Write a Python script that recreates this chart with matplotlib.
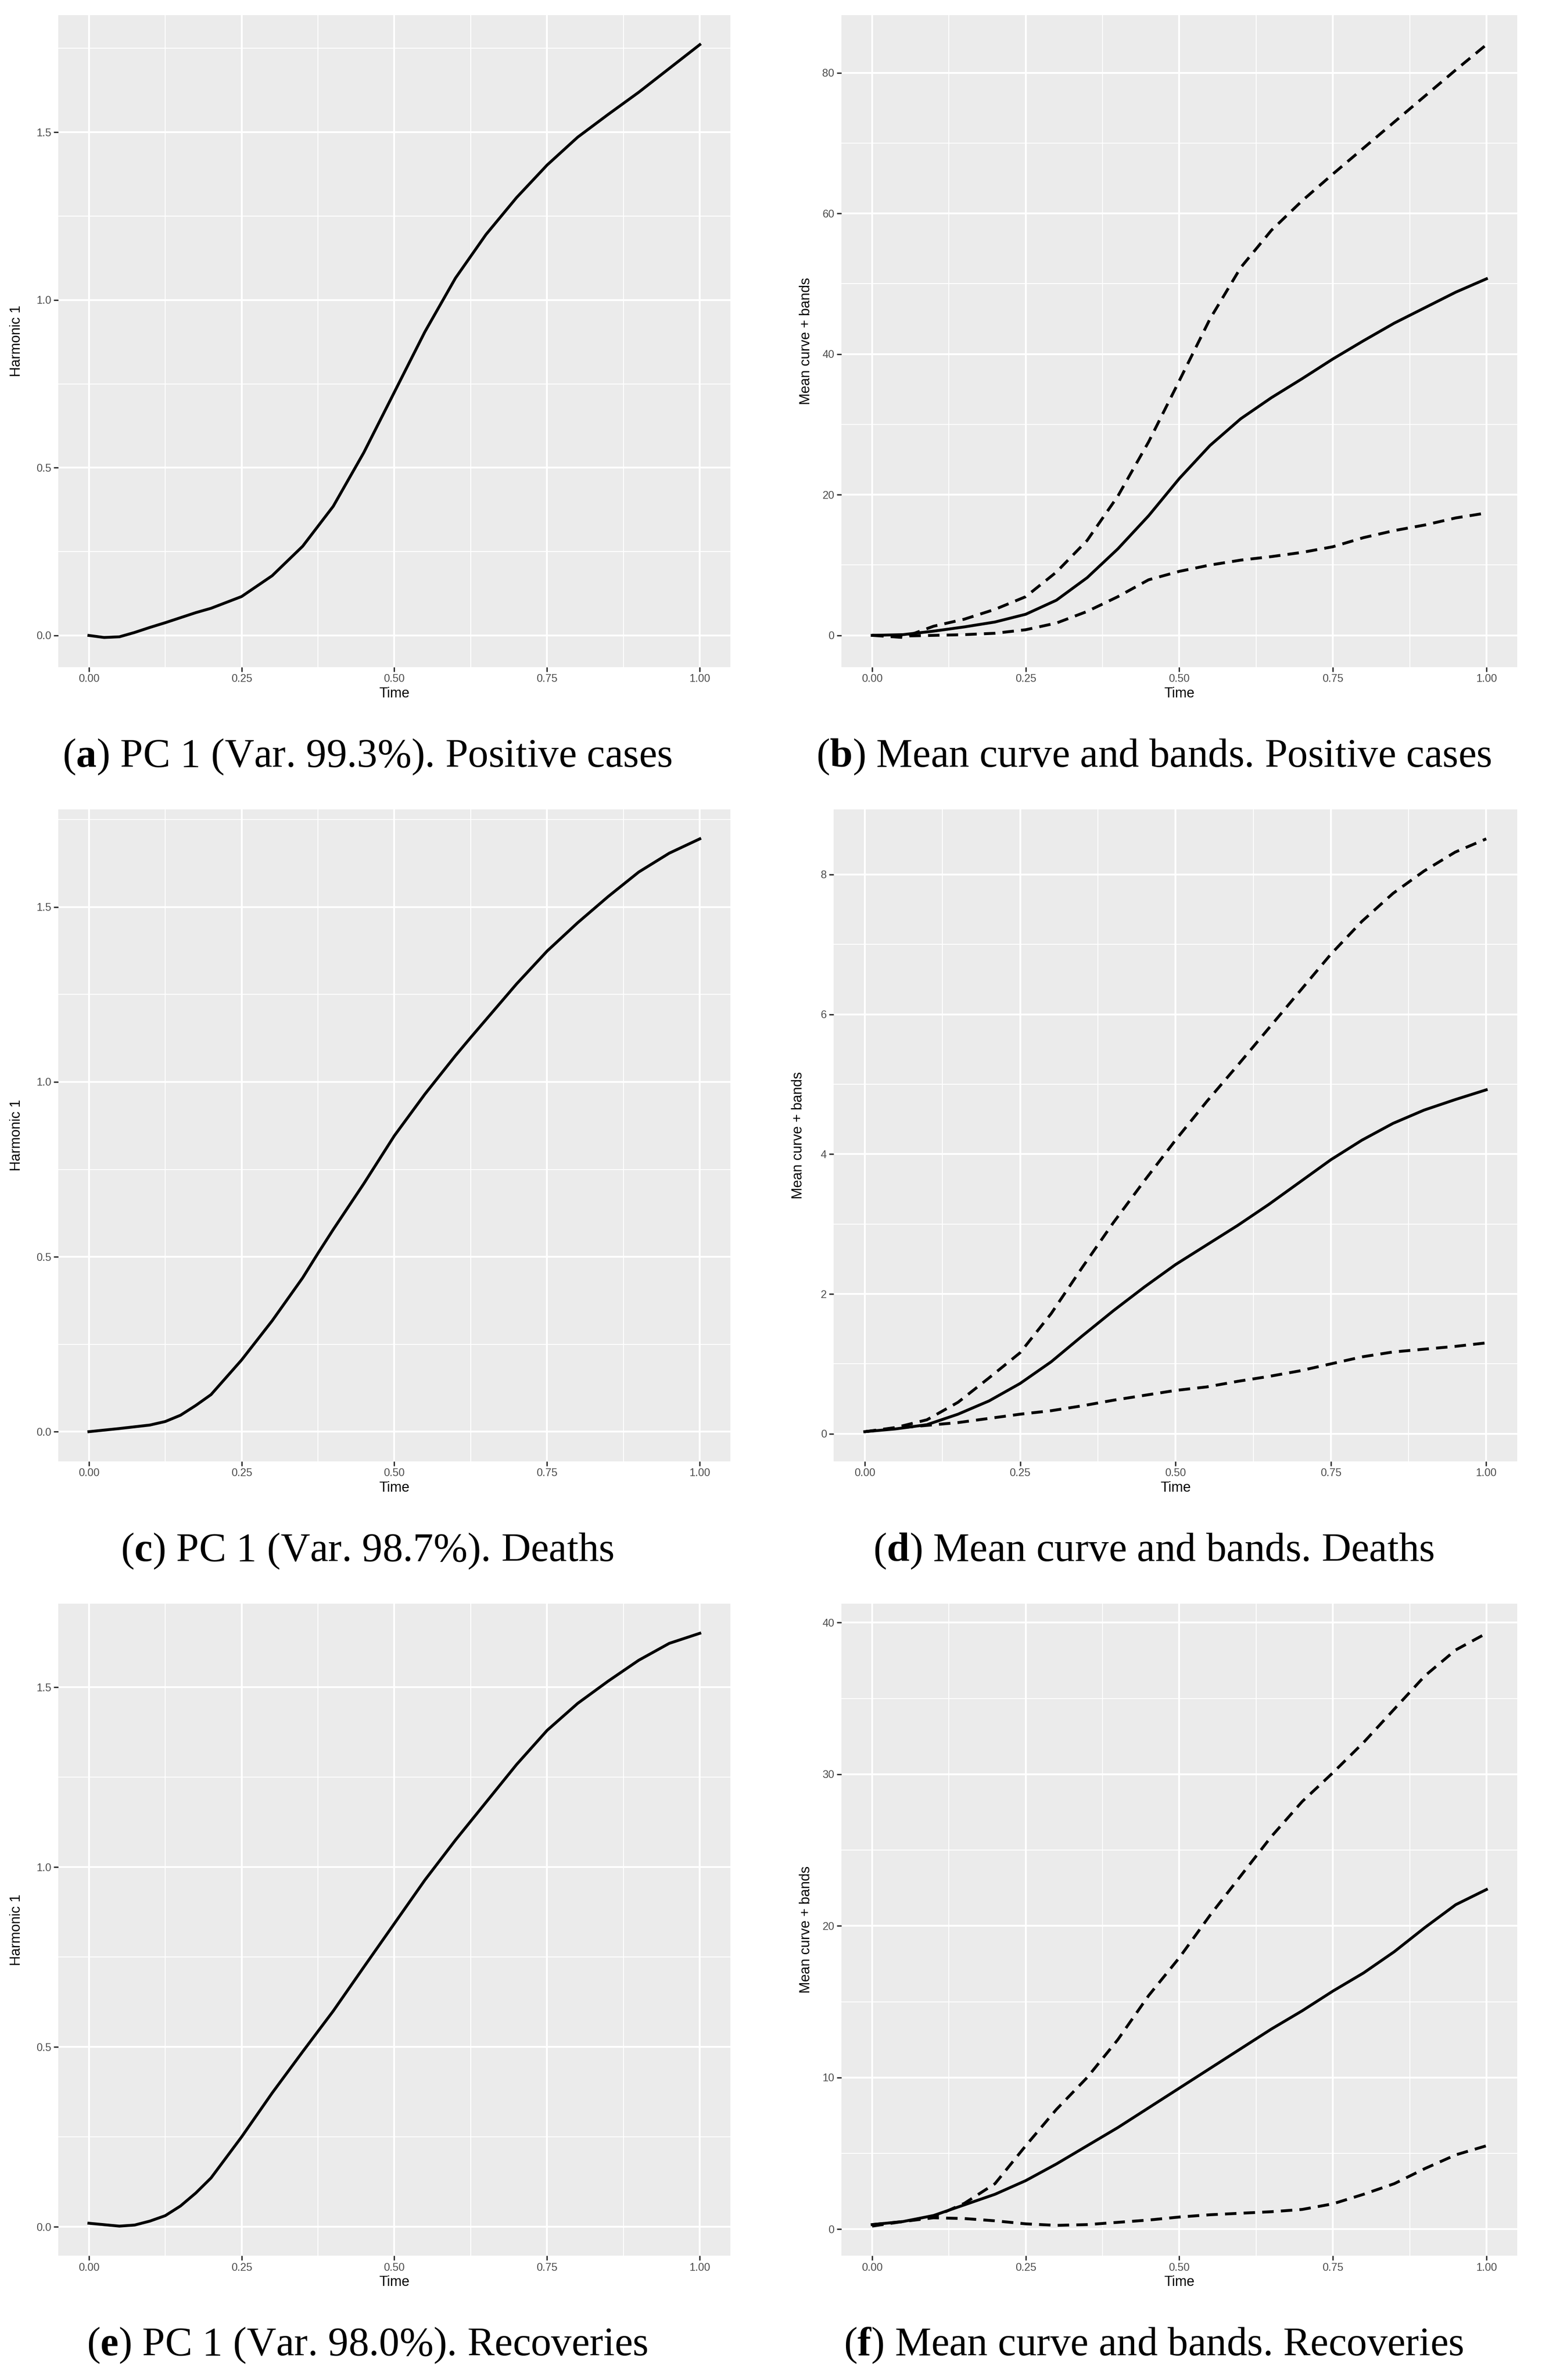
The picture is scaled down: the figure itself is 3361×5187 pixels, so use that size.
import matplotlib
matplotlib.use("Agg")
import matplotlib.pyplot as plt
from matplotlib.ticker import MultipleLocator, FixedLocator

plt.rcParams['mathtext.fontset'] = 'custom'
plt.rcParams['mathtext.rm'] = 'Liberation Serif'
plt.rcParams['mathtext.bf'] = 'Liberation Serif:bold'

# time grids
t05 = [0, .05, .1, .15, .2, .25, .3, .35, .4, .45, .5, .55, .6, .65, .7, .75, .8, .85, .9, .95, 1.0]
t_a = [0, .025, .05, .075, .1, .125, .15, .175, .2, .25, .3, .35, .4, .45, .5, .55, .6, .65, .7, .75, .8, .85, .9, .95, 1.0]
t_c = [0, .05, .1, .125, .15, .175, .2, .25, .3, .35, .375, .4, .45, .5, .55, .6, .625, .65, .7, .75, .8, .85, .9, .95, 1.0]
t_e = t_a

# (a) harmonic 1, positive cases
harm_pos = [0, -0.006, -0.004, 0.009, 0.024, 0.038, 0.053, 0.068, 0.081, 0.116, 0.178, 0.266, 0.385,
            0.545, 0.725, 0.905, 1.065, 1.195, 1.305, 1.402, 1.485, 1.553, 1.619, 1.69, 1.761]
# (b) mean and bands, positive cases
upper_pos = [0, -0.3, 1.3, 2.3, 3.7, 5.5, 9.0, 13.5, 19.8, 27.5, 36.2, 45.0, 52.3, 57.6, 61.8, 65.6,
             69.3, 73.0, 76.7, 80.4, 84.0]
mean_pos = [0, 0.1, 0.6, 1.2, 1.9, 3.0, 5.0, 8.2, 12.3, 17.0, 22.3, 27.0, 30.8, 33.8, 36.5, 39.3,
            41.9, 44.4, 46.6, 48.8, 50.7]
lower_pos = [0, -0.1, 0.0, 0.1, 0.3, 0.8, 1.75, 3.4, 5.5, 7.9, 9.1, 10.0, 10.7, 11.2, 11.8, 12.6,
             13.9, 14.9, 15.7, 16.7, 17.4]
# (c) harmonic 1, deaths
harm_dea = [0, 0.009, 0.019, 0.029, 0.047, 0.075, 0.106, 0.205, 0.317, 0.44, 0.51, 0.578, 0.709,
            0.846, 0.965, 1.075, 1.127, 1.178, 1.28, 1.374, 1.455, 1.53, 1.60, 1.654, 1.695]
# (d) mean and bands, deaths
upper_dea = [0.03, 0.09, 0.2, 0.45, 0.8, 1.16, 1.72, 2.38, 3.02, 3.62, 4.2, 4.75, 5.27, 5.8, 6.33,
             6.86, 7.33, 7.73, 8.05, 8.32, 8.51]
mean_dea = [0.03, 0.07, 0.13, 0.28, 0.47, 0.72, 1.03, 1.4, 1.76, 2.1, 2.42, 2.7, 2.98, 3.28, 3.6,
            3.92, 4.2, 4.44, 4.63, 4.78, 4.92]
lower_dea = [0.03, 0.08, 0.12, 0.16, 0.22, 0.28, 0.33, 0.4, 0.48, 0.55, 0.62, 0.67, 0.75, 0.82, 0.9,
             1.0, 1.1, 1.17, 1.21, 1.25, 1.3]
# (e) harmonic 1, recoveries
harm_rec = [0.01, 0.006, 0.002, 0.005, 0.016, 0.031, 0.058, 0.094, 0.136, 0.25, 0.372, 0.487, 0.6,
            0.722, 0.843, 0.964, 1.075, 1.18, 1.285, 1.38, 1.455, 1.517, 1.575, 1.622, 1.65]
# (f) mean and bands, recoveries
upper_rec = [0.3, 0.5, 0.8, 1.7, 3.0, 5.5, 7.9, 10.0, 12.5, 15.4, 17.9, 20.7, 23.3, 25.9, 28.2,
             30.1, 32.1, 34.3, 36.5, 38.2, 39.3]
mean_rec = [0.3, 0.5, 0.9, 1.6, 2.3, 3.2, 4.3, 5.5, 6.7, 8.0, 9.3, 10.6, 11.9, 13.2, 14.4, 15.7,
            16.9, 18.3, 19.9, 21.4, 22.4]
lower_rec = [0.2, 0.5, 0.75, 0.7, 0.55, 0.35, 0.25, 0.3, 0.45, 0.6, 0.8, 0.95, 1.05, 1.15, 1.3,
             1.67, 2.3, 3.0, 4.0, 4.9, 5.5]

captions = [("a", "PC 1 (Var. 99.3%). Positive cases"),
            ("b", "Mean curve and bands. Positive cases"),
            ("c", "PC 1 (Var. 98.7%). Deaths"),
            ("d", "Mean curve and bands. Deaths"),
            ("e", "PC 1 (Var. 98.0%). Recoveries"),
            ("f", "Mean curve and bands. Recoveries")]

W, H = 3362, 5187
fig = plt.figure(figsize=(W / 100, H / 100), dpi=100)

TICK_FS = 17
TITLE_FS = 22
SANS = 'Liberation Sans'


def style(ax, ymajor, ylabel, fmt):
    ax.set_facecolor('#EBEBEB')
    for s in ax.spines.values():
        s.set_visible(False)
    ax.set_xlim(-0.05, 1.05)
    ax.xaxis.set_major_locator(FixedLocator([0, 0.25, 0.5, 0.75, 1.0]))
    ax.xaxis.set_minor_locator(FixedLocator([0.125, 0.375, 0.625, 0.875]))
    ax.set_xticklabels(['0.00', '0.25', '0.50', '0.75', '1.00'])
    ax.yaxis.set_major_locator(MultipleLocator(ymajor))
    ax.yaxis.set_minor_locator(MultipleLocator(ymajor / 2))
    ax.yaxis.set_major_formatter(plt.FuncFormatter(lambda v, p: fmt.format(v)))
    ax.grid(which='major', color='white', linewidth=2.9)
    ax.grid(which='minor', color='white', linewidth=1.4)
    ax.set_axisbelow(True)
    ax.tick_params(which='major', length=7, width=2.2, color='#333333', pad=4,
                   labelsize=TICK_FS, labelcolor='#4D4D4D')
    ax.tick_params(which='minor', length=0)
    for lab in ax.get_xticklabels() + ax.get_yticklabels():
        lab.set_family(SANS)
    ax.set_xlabel('Time', fontsize=TITLE_FS, family=SANS, labelpad=4)
    ax.set_ylabel(ylabel, fontsize=TITLE_FS, family=SANS)


rows = [(0.7197, harm_pos, t_a, (upper_pos, mean_pos, lower_pos), 0.5, 20, '{:.0f}'),
        (0.3860, harm_dea, t_c, (upper_dea, mean_dea, lower_dea), 0.5, 2, '{:.0f}'),
        (0.0522, harm_rec, t_e, (upper_rec, mean_rec, lower_rec), 0.5, 10, '{:.0f}')]
right_x = [(0.5455, 0.4381), (0.5405, 0.4432), (0.5455, 0.4381)]
cap_y = [0.6778, 0.3441, 0.0104]

k = 0
for i, (yb, harm, th, bands, hstep, bstep, bfmt) in enumerate(rows):
    axl = fig.add_axes([0.0378, yb, 0.4357, 0.2740])
    axl.plot(th, harm, color='black', linewidth=4.5, solid_joinstyle='round')
    style(axl, hstep, 'Harmonic 1', '{:.1f}')
    axl.yaxis.set_label_coords(-0.052, 0.5)

    xr, wr = right_x[i]
    axr = fig.add_axes([xr, yb, wr, 0.2740])
    up, mn, lo = bands
    axr.plot(t05, up, color='black', linewidth=4.5, linestyle=(0, (4, 2.5)))
    axr.plot(t05, mn, color='black', linewidth=4.5, solid_joinstyle='round')
    axr.plot(t05, lo, color='black', linewidth=4.5, linestyle=(0, (4, 2.5)))
    style(axr, bstep, 'Mean curve + bands', bfmt)
    axr.yaxis.set_label_coords(-0.042, 0.5)

    for cx in (0.238, 0.748):
        letter, txt = captions[k]
        fig.text(cx, cap_y[i], r'($\mathbf{' + letter + r'}$) ' + txt,
                 ha='center', va='baseline', fontsize=64, family='Liberation Serif')
        k += 1

fig.savefig('out.png', dpi=100)
